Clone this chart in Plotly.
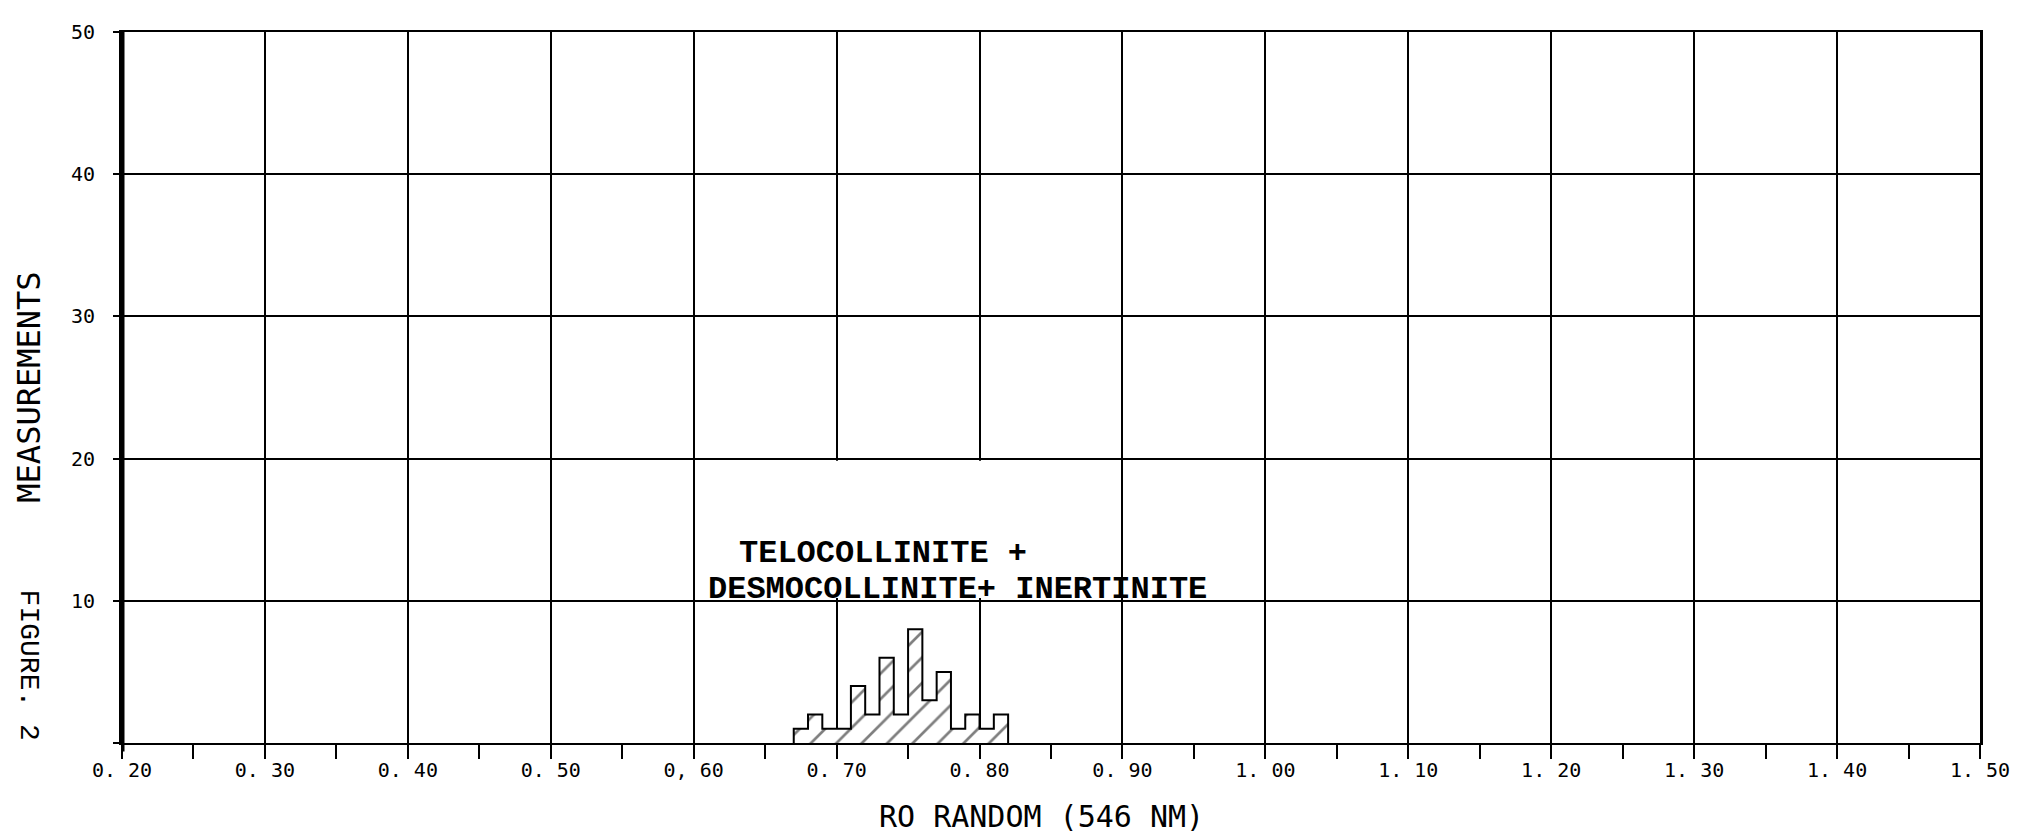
import plotly.graph_objects as go

# ---- data ----
bin_starts = [0.67, 0.68, 0.69, 0.70, 0.71, 0.72, 0.73, 0.74, 0.75, 0.76, 0.77, 0.78, 0.79, 0.80, 0.81]
counts = [1, 2, 1, 1, 4, 2, 6, 2, 8, 3, 5, 1, 2, 1, 2]
bin_width = 0.01

x_tick_vals = [0.2, 0.3, 0.4, 0.5, 0.6, 0.7, 0.8, 0.9, 1.0, 1.1, 1.2, 1.3, 1.4, 1.5]
x_tick_text = ["0. 20", "0. 30", "0. 40", "0. 50", "0, 60", "0. 70", "0. 80", "0. 90",
               "1. 00", "1. 10", "1. 20", "1. 30", "1. 40", "1. 50"]
y_tick_vals = [0, 10, 20, 30, 40, 50]
y_tick_text = ["", "10", "20", "30", "40", "50"]

label_line1 = "TELOCOLLINITE +"
label_line2 = "DESMOCOLLINITE+ INERTINITE"

# ---- figure ----
fig = go.Figure()

fig.add_trace(go.Bar(
    x=bin_starts, y=counts, width=bin_width, offset=0,
    marker=dict(color="white", line=dict(width=0),
                pattern=dict(shape="/", fillmode="overlay", fgcolor="black",
                             size=18, solidity=0.15)),
    showlegend=False, hoverinfo="skip",
))

# step outline of the histogram
step_x = [bin_starts[0]] + bin_starts + [bin_starts[-1] + bin_width]
step_y = [0] + counts + [0]
fig.add_trace(go.Scatter(
    x=step_x, y=step_y, mode="lines", line=dict(shape="hv", color="black", width=2),
    showlegend=False, hoverinfo="skip",
))

tick_font = dict(family="DejaVu Sans Mono", size=20, color="black")
title_font = dict(family="DejaVu Sans Mono", size=32, color="black")
serif_font = dict(family="Liberation Mono", size=32, color="black", weight="bold")

fig.update_xaxes(
    range=[0.2, 1.5], tickmode="array", tickvals=x_tick_vals, ticktext=x_tick_text,
    showgrid=True, gridcolor="black", gridwidth=2,
    showline=True, linecolor="black", linewidth=2, mirror=True,
    ticks="outside", ticklen=8, tickwidth=2, tickcolor="black",
    minor=dict(dtick=0.05, tick0=0.2, ticks="outside", ticklen=14, tickwidth=2,
               tickcolor="black", showgrid=False),
    tickfont=tick_font, ticklabelstandoff=0, zeroline=False,
)
fig.update_yaxes(
    range=[0, 50], tickmode="array", tickvals=y_tick_vals, ticktext=y_tick_text,
    showgrid=True, gridcolor="black", gridwidth=1.5,
    showline=True, linecolor="black", linewidth=3, mirror=True,
    ticks="outside", ticklen=6, tickwidth=2, tickcolor="black",
    tickfont=tick_font, ticklabelstandoff=14, zeroline=False,
)

# blank gap in the 0.70 / 0.80 grid lines behind the label
fig.add_shape(type="rect", xref="x", yref="y", x0=0.69, x1=0.81, y0=10.2, y1=19.85,
              fillcolor="white", line=dict(width=0), layer="between")
# heavy left axis
fig.add_shape(type="line", xref="x", yref="paper", x0=0.2, x1=0.2, y0=-0.012, y1=1.0,
              line=dict(color="black", width=5), layer="above")

fig.add_annotation(x=0.6304, y=13.3, xref="x", yref="y", text=label_line1, showarrow=False,
                   xanchor="left", yanchor="middle", font=serif_font)
fig.add_annotation(x=0.6087, y=10.8, xref="x", yref="y", text=label_line2, showarrow=False,
                   xanchor="left", yanchor="middle", font=serif_font)

fig.add_annotation(x=0.495, y=-0.1035, xref="paper", yref="paper", text="RO RANDOM (546 NM)",
                   showarrow=False, xanchor="center", yanchor="middle",
                   font=dict(family="DejaVu Sans Mono", size=30, color="black"))
fig.add_annotation(x=-0.0505, y=0.5, xref="paper", yref="paper", text="MEASUREMENTS",
                   showarrow=False, textangle=-90, xanchor="center", yanchor="middle",
                   font=title_font)
fig.add_annotation(x=-0.0505, y=0.110, xref="paper", yref="paper", text="FIGURE. 2",
                   showarrow=False, textangle=90, xanchor="center", yanchor="middle",
                   font=dict(family="Liberation Mono", size=28, color="black"))

fig.update_layout(
    width=2033, height=834, autosize=False,
    margin=dict(l=114, r=61, t=19, b=99),
    paper_bgcolor="white", plot_bgcolor="white",
    bargap=0, showlegend=False,
)

fig.write_html("out.html")
